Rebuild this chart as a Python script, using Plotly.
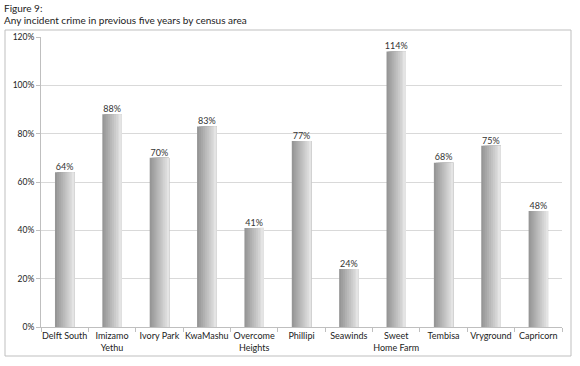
import plotly.graph_objects as go

categories = ["Delft South", "Imizamo<br>Yethu", "Ivory Park", "KwaMashu", "Overcome<br>Heights",
              "Phillipi", "Seawinds", "Sweet<br>Home Farm", "Tembisa", "Vryground", "Capricorn"]
values = [64, 88, 70, 83, 41, 77, 24, 114, 68, 75, 48]
y_ticks = [0, 20, 40, 60, 80, 100, 120]
y_tick_labels = ["0%", "20%", "40%", "60%", "80%", "100%", "120%"]

W, H = 580, 366
L, R, T, B = 41, 18, 37, 39
pw, ph = W - L - R, H - T - B

def px_x(p):
    return (p - L) / pw

def px_y(p):
    return (H - B - p) / ph

FONT = "Lato"

fig = go.Figure()

# gradient bars built from narrow overlapping slices (dark left -> light right)
n = 10
bar_w = 0.41
dark = (150, 150, 150)
light = (228, 228, 228)
sw = bar_w / n
for i in range(n):
    t = i / (n - 1)
    c = tuple(int(round(dark[k] + (light[k] - dark[k]) * t)) for k in range(3))
    fig.add_trace(go.Bar(
        x=categories, y=values,
        width=bar_w - i * sw,
        offset=-bar_w / 2 + i * sw,
        marker=dict(color="rgb(%d,%d,%d)" % c, line=dict(width=0)),
        hoverinfo="skip", showlegend=False,
    ))

fig.add_trace(go.Scatter(
    x=categories, y=values, mode="text",
    text=["%d%%" % v for v in values], textposition="top center",
    textfont=dict(size=9, color="#333333", family=FONT),
    showlegend=False, hoverinfo="skip", cliponaxis=False,
))

fig.update_layout(
    width=W, height=H,
    margin=dict(l=L, r=R, t=T, b=B, pad=0, autoexpand=False),
    barmode="overlay",
    paper_bgcolor="white", plot_bgcolor="white",
    font=dict(family=FONT, size=8, color="#222222"),
    xaxis=dict(
        type="category", showgrid=False, showline=True, linecolor="#bfbfbf", linewidth=1,
        ticks="outside", tickson="boundaries", ticklen=4, tickcolor="#bfbfbf",
        tickangle=0, tickfont=dict(size=9, color="#222222", family=FONT), range=[-0.5, 10.5],
        automargin=False,
    ),
    yaxis=dict(
        range=[0, 120], tickvals=y_ticks, ticktext=y_tick_labels,
        showgrid=True, gridcolor="#d9d9d9", gridwidth=1,
        showline=True, linecolor="#bfbfbf", linewidth=1,
        ticks="outside", ticklen=4, tickcolor="#bfbfbf",
        tickfont=dict(size=8.5, color="#222222", family=FONT), zeroline=False,
        automargin=False,
    ),
    shapes=[dict(type="rect", xref="paper", yref="paper",
                 x0=px_x(5), x1=px_x(571), y0=px_y(356), y1=px_y(30),
                 line=dict(color="#bfbfbf", width=1), fillcolor="rgba(0,0,0,0)", layer="below")],
    annotations=[
        dict(text="Figure 9:", xref="paper", yref="paper", x=px_x(2), y=px_y(8),
             xanchor="left", yanchor="middle", showarrow=False,
             font=dict(size=10, color="#222222", family=FONT)),
        dict(text="Any incident crime in previous five years by census area", xref="paper", yref="paper",
             x=px_x(2), y=px_y(20), xanchor="left", yanchor="middle", showarrow=False,
             font=dict(size=10, color="#222222", family=FONT)),
    ],
)

fig.write_html("out.html", config={"displayModeBar": False},
               post_script="document.body.style.margin='0';")
